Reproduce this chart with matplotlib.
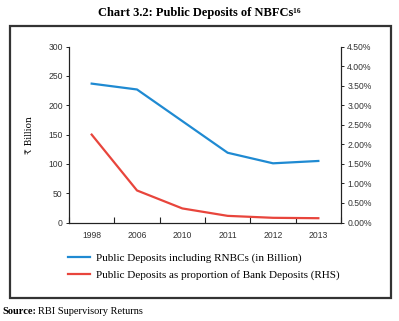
import numpy as np
import matplotlib.pyplot as plt
from matplotlib.patches import Rectangle
from matplotlib.ticker import FuncFormatter

years = ['1998', '2006', '2010', '2011', '2012', '2013']
public_deposits = [237, 227, 173, 119, 101, 105]          # Rs billion
share_of_bank = [2.25, 0.82, 0.36, 0.17, 0.12, 0.11]        # percent (RHS)

W, H = 399, 321
fig = plt.figure(figsize=(W / 100, H / 100), dpi=100)

serif = ['Liberation Serif', 'DejaVu Serif']
tick_font = ['Liberation Sans', 'DejaVu Sans']

ax = fig.add_axes([69 / W, 1 - 222.5 / H, 272 / W, 175.8 / H])
ax2 = ax.twinx()

x = np.arange(len(years))
blue, = ax.plot(x, public_deposits, color='#1f8ad2', lw=1.6)
red, = ax2.plot(x, share_of_bank, color='#e8453c', lw=1.6)

ax.set_xlim(-0.5, len(years) - 0.5)
ax.set_ylim(0, 300)
ax.set_yticks(np.arange(0, 301, 50))
ax2.set_ylim(0, 4.5)
ax2.set_yticks(np.arange(0, 4.51, 0.5))
ax2.yaxis.set_major_formatter(FuncFormatter(lambda v, p: f'{v:.2f}%'))

# category labels centred, tick marks on the boundaries
ax.set_xticks(np.arange(-0.5, len(years), 1))
ax.set_xticklabels([])
ax.set_xticks(x, minor=True)
ax.set_xticklabels(years, minor=True)
ax.tick_params(axis='x', which='major', length=4, direction='in', color='#222222')
ax.tick_params(axis='x', which='minor', length=0, pad=6)
ax.tick_params(axis='y', length=2.5, width=0.6, pad=2)
ax2.tick_params(axis='y', length=2.5, width=0.6, pad=2)

for a in (ax, ax2):
    a.spines['top'].set_visible(False)
    for s in ('left', 'right', 'bottom'):
        a.spines[s].set_linewidth(0.8)
        a.spines[s].set_color('#222222')
    for lab in a.get_xticklabels(which='both') + a.get_yticklabels():
        lab.set_family(tick_font)
        lab.set_fontsize(6.2)
        lab.set_color('#333333')

ax.set_ylabel('\u20b9 Billion', family=['DejaVu Serif', 'Liberation Serif'], fontsize=6.5, labelpad=10)

fig.legend([blue, red],
           ['Public Deposits including RNBCs (in Billion)',
            'Public Deposits as proportion of Bank Deposits (RHS)'],
           loc='upper left', bbox_to_anchor=(58 / W, 1 - 243 / H),
           frameon=False, handlelength=2.0, handletextpad=0.5, labelspacing=0.65,
           prop={'family': serif, 'size': 8})

fig.text(0.5, 1 - 13 / H, 'Chart 3.2: Public Deposits of NBFCs\u00b9\u2076', ha='center', va='center',
         family=serif, fontsize=9, fontweight='bold')

fig.text(2 / W, 1 - 311 / H, 'Source:', ha='left', va='center', family=serif, fontsize=7.5, fontweight='bold')
fig.text(38 / W, 1 - 311 / H, 'RBI Supervisory Returns', ha='left', va='center', family=serif, fontsize=7.5)

fig.patches.append(Rectangle((10 / W, 1 - 297.5 / H), 381 / W, 272 / H, transform=fig.transFigure,
                             fill=False, lw=1.6, edgecolor='#333333'))

fig.savefig('out.png', dpi=100)
